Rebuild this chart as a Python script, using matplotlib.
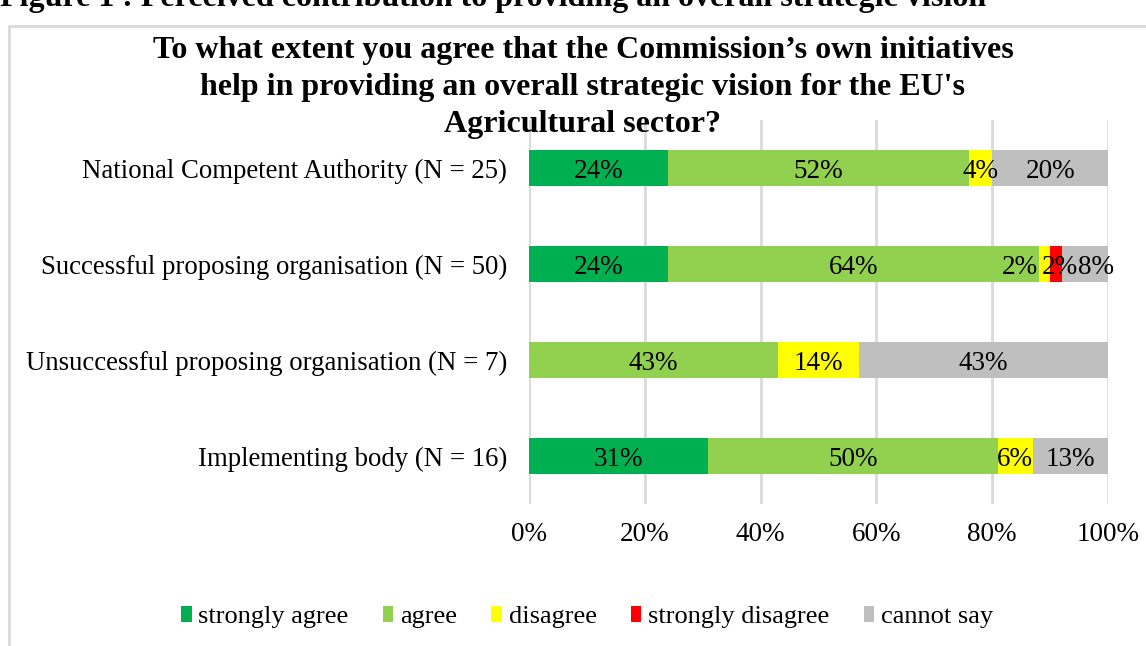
import numpy as np
import matplotlib.pyplot as plt
from matplotlib.patches import Patch, Rectangle

plt.rcParams['font.family'] = ['Liberation Serif', 'DejaVu Serif']

# data
groups = ['National Competent Authority (N = 25)',
          'Successful proposing organisation (N = 50)',
          'Unsuccessful proposing organisation (N = 7)',
          'Implementing body (N = 16)']
answers = ['strongly agree', 'agree', 'disagree', 'strongly disagree', 'cannot say']
strongly_agree = [24, 24, 0, 31]
agree = [52, 64, 43, 50]
disagree = [4, 2, 14, 6]
strongly_disagree = [0, 2, 0, 0]
cannot_say = [20, 8, 43, 13]
colors = ['#00B050', '#92D050', '#FFFF00', '#FF0000', '#BFBFBF']

series = [strongly_agree, agree, disagree, strongly_disagree, cannot_say]

fig = plt.figure(figsize=(11.46, 6.46), dpi=100)

# outer chart frame
fig.patches.append(Rectangle((9 / 1146, -0.05), 1.1, (646 - 26) / 646 + 0.05,
                             transform=fig.transFigure, fill=False,
                             edgecolor='#d9d9d9', linewidth=2))

fig.text(0.0, 1 - 6 / 646, 'Figure 1 : Perceived contribution to providing an overall strategic vision',
         fontsize=23, fontweight='bold', ha='left', va='baseline')

fig.text(583 / 1146, 1 - 36 / 646,
         "To what extent you agree that the Commission\u2019s own initiatives\n"
         "help in providing an overall strategic vision for the EU's\n"
         "Agricultural sector?",
         fontsize=23, fontweight='bold', ha='center', va='top', linespacing=1.37)

ax = fig.add_axes([529 / 1146, 1 - 504 / 646, (1108 - 529) / 1146, (504 - 120) / 646])
ax.set_zorder(-1)

y = np.arange(len(groups))
left = np.zeros(len(groups))
# small nudges for crowded labels (row 1)
shifts = {(1, 2): -4.2, (1, 3): 0.6, (1, 4): 2.0}
for k, (vals, col) in enumerate(zip(series, colors)):
    vals = np.array(vals, dtype=float)
    ax.barh(y, vals, left=left, height=0.385, color=col, label=answers[k], zorder=2)
    for i, v in enumerate(vals):
        if v > 0:
            cx = left[i] + v / 2 + shifts.get((i, k), 0)
            ax.text(cx, y[i], f'{v:.0f}%', ha='center', va='center_baseline',
                    fontsize=19.5, color='black', zorder=3)
    left += vals

ax.set_xlim(0, 100)
ax.set_ylim(3.5, -0.5)
ax.set_xticks(np.arange(0, 101, 20))
ax.set_xticklabels([f'{t}%' for t in range(0, 101, 20)])
ax.set_yticks(y)
ax.set_yticklabels(groups)
ax.tick_params(axis='both', length=0, labelsize=19.5)
ax.tick_params(axis='y', labelsize=19.3, pad=16)
ax.tick_params(axis='x', pad=13)
ax.grid(axis='x', color='#d9d9d9', linewidth=2, zorder=0)
ax.set_axisbelow(True)
for s in ax.spines.values():
    s.set_visible(False)

handles = [Patch(facecolor=c, edgecolor='none') for c in colors]
fig.legend(handles, answers, loc='center', bbox_to_anchor=(587 / 1146, 1 - 617 / 646),
           ncol=5, frameon=False, fontsize=19, handlelength=0.4, handleheight=0.6,
           handletextpad=0.25, columnspacing=1.3)

fig.savefig('out.png', dpi=100)
